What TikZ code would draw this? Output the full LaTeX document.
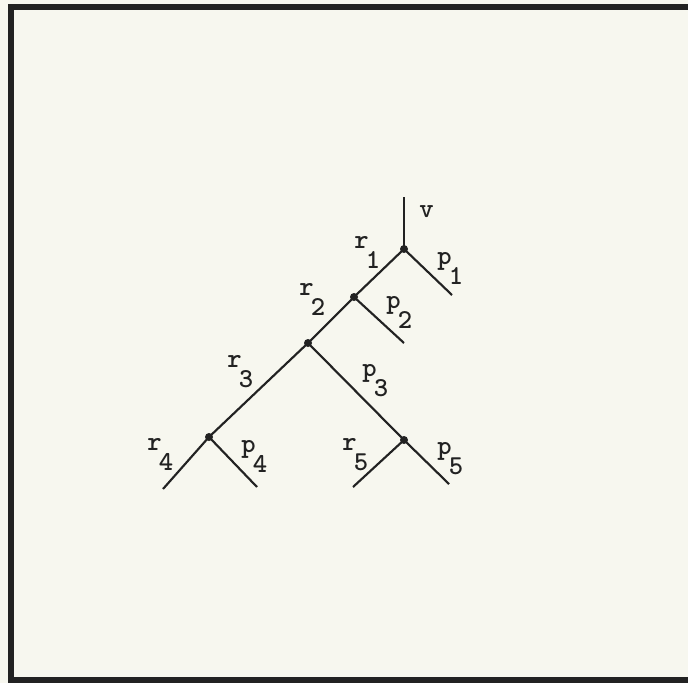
\documentclass[tikz,border=0pt]{standalone}
\usepackage{tikz}
\definecolor{paper}{HTML}{F7F7EF}
\definecolor{ink}{HTML}{222222}
\newcommand{\lbl}[2]{#1\kern-0.1em\raisebox{-15.5pt}{#2}}
\begin{document}
\begin{tikzpicture}[x=0.75pt,y=-0.75pt,
  branch/.style={draw=ink,line width=1.6pt},
  joint/.style={circle,fill=ink,inner sep=0pt,minimum size=6pt},
  lab/.style={inner sep=0pt,anchor=base west,text=ink,font=\fontsize{20.5}{21}\selectfont\ttfamily\bfseries}]
\useasboundingbox (0,0) rectangle (688,682);
\fill[paper] (-10,-10) rectangle (700,692);
\draw[ink,line width=4.5pt,line cap=butt] (700,7) -- (11,7) -- (11,680) -- (700,680);
% junctions
\node[joint] (n1) at (404,249) {};
\node[joint] (n2) at (354,297) {};
\node[joint] (n3) at (308,343) {};
\node[joint] (n4) at (209,437) {};
\node[joint] (n5) at (404,440) {};
% free ends
\coordinate (ev) at (404,197);
\coordinate (ep1) at (452,295);
\coordinate (ep2) at (404,343);
\coordinate (er4) at (163,489);
\coordinate (ep4) at (257,487);
\coordinate (er5) at (353,487);
\coordinate (ep5) at (449,484);
% branches
\draw[branch] (ev) -- (n1.center);
\draw[branch] (n1.center) -- (ep1);
\draw[branch] (n1.center) -- (n2.center);
\draw[branch] (n2.center) -- (ep2);
\draw[branch] (n2.center) -- (n3.center);
\draw[branch] (n3.center) -- (n4.center);
\draw[branch] (n3.center) -- (n5.center);
\draw[branch] (n4.center) -- (er4);
\draw[branch] (n4.center) -- (ep4);
\draw[branch] (n5.center) -- (er5);
\draw[branch] (n5.center) -- (ep5);
% labels
\node[lab] (lv) at (419,217) {v};
\node[lab] (lr1) at (354,248) {\lbl{r}{1}};
\node[lab] (lp1) at (437,264) {\lbl{p}{1}};
\node[lab] (lr2) at (299,295) {\lbl{r}{2}};
\node[lab] (lp2) at (386,308) {\lbl{p}{2}};
\node[lab] (lr3) at (227,367) {\lbl{r}{3}};
\node[lab] (lp3) at (362,376) {\lbl{p}{3}};
\node[lab] (lr4) at (147,450) {\lbl{r}{4}};
\node[lab] (lp4) at (241,452) {\lbl{p}{4}};
\node[lab] (lr5) at (342,450) {\lbl{r}{5}};
\node[lab] (lp5) at (437,454) {\lbl{p}{5}};
\end{tikzpicture}
\end{document}
